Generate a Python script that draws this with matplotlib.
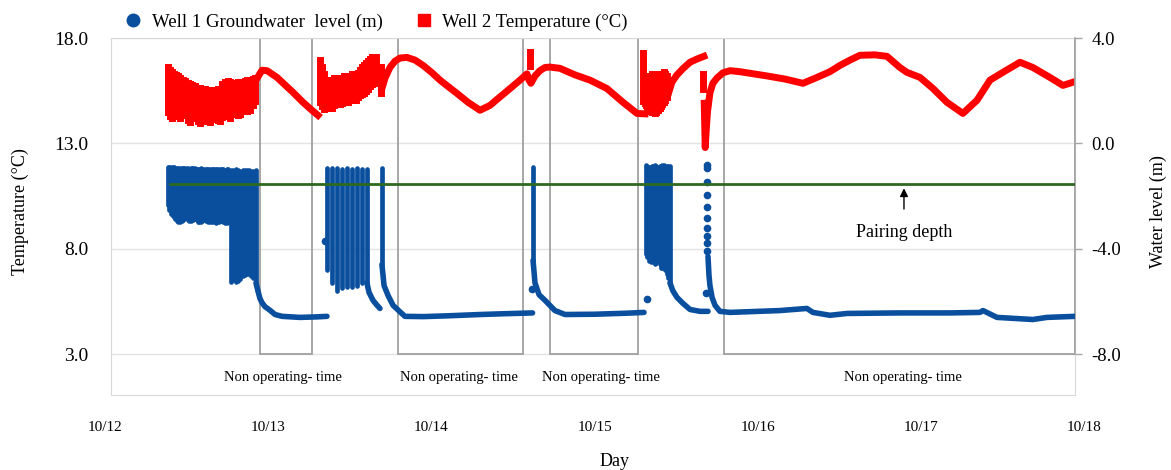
import numpy as np
import matplotlib
matplotlib.use("Agg")
import matplotlib.pyplot as plt
from matplotlib.patches import Rectangle
from matplotlib.lines import Line2D

plt.rcParams["font.family"] = ["Liberation Serif", "DejaVu Serif"]

NAN = np.nan
BLUE = "#0a4f9e"
RED = "#ff0000"
GREEN = "#2d6a1f"

# ---------------------------------------------------------------------------
# axes / labels
# ---------------------------------------------------------------------------
day_ticks = [0, 1, 2, 3, 4, 5, 6]
day_labels = ["10/12", "10/13", "10/14", "10/15", "10/16", "10/17", "10/18"]
temp_ticks = [3, 8, 13, 18]
level_ticks = [-8, -4, 0, 4]

# non operating periods (days after 10/12 00:00)
nonop_start = [0.950, 1.795, 2.727, 3.793]
nonop_end = [1.268, 2.561, 3.266, 5.944]
nonop_label_day = [1.091, 2.169, 3.039, 4.890]

pairing_depth = -1.55      # m
pairing_from = 0.392       # day the line starts

# ---------------------------------------------------------------------------
# Well 2 temperature (degC)
# ---------------------------------------------------------------------------
# smooth stretches, NaN = break between records
temp_day = [0.925, 0.962, 0.993, 1.054, 1.152, 1.213, 1.268, 1.305, NAN,
            1.697, 1.716, 1.746, 1.777, 1.808, 1.850, 1.900, 1.949, 2.004,
            2.053, 2.102, 2.157, 2.224, 2.298, 2.359, 2.420, 2.482, 2.543,
            2.586, 2.598, 2.610, 2.635, 2.665, 2.696, 2.727, 2.788, 2.880,
            2.972, 3.076, 3.174, 3.260, 3.309, NAN,
            3.450, 3.474, 3.505, 3.542, 3.585, 3.627, 3.670, NAN,
            3.672, 3.678, 3.684, 3.692, 3.707, 3.725, 3.750, 3.787, 3.830,
            3.891, 4.056, 4.167, 4.277, 4.363, 4.442, 4.504, 4.565, 4.626,
            4.718, 4.792, 4.871, 4.914, 4.994, 5.074, 5.159, 5.257, 5.343,
            5.423, 5.502, 5.607, 5.686, 5.790, 5.870, 5.931]
temp_val = [16.0, 16.47, 16.45, 16.13, 15.42, 14.95, 14.57, 14.33, NAN,
            15.6, 16.1, 16.6, 16.9, 17.05, 17.08, 16.95, 16.7, 16.35,
            16.0, 15.7, 15.37, 14.95, 14.57, 14.8, 15.2, 15.6, 16.0,
            16.3, 16.0, 15.85, 16.2, 16.45, 16.6, 16.62, 16.56, 16.25,
            16.0, 15.6, 14.95, 14.42, 14.4, NAN,
            15.3, 15.9, 16.25, 16.55, 16.85, 17.0, 17.13, NAN,
            14.9, 12.8, 13.6, 14.5, 15.4, 15.85, 16.1, 16.35, 16.45,
            16.4, 16.2, 16.05, 15.85, 16.13, 16.4, 16.7, 16.95, 17.18,
            17.2, 17.13, 16.6, 16.37, 16.13, 15.6, 14.95, 14.42, 15.04,
            16.0, 16.37, 16.85, 16.6, 16.13, 15.75, 15.9]

# pump cycling: spread of readings (high / low) at each step
temp_cyc_day = [0.386, 0.399, 0.411, 0.423, 0.435, 0.448, 0.460, 0.475,
                0.490, 0.506, 0.521, 0.536, 0.551, 0.567, 0.582, 0.597,
                0.613, 0.628, 0.643, 0.659, 0.674, 0.690, 0.705, 0.720,
                0.735, 0.751, 0.766, 0.781, 0.797, 0.812, 0.827, 0.843,
                0.858, 0.873, 0.888, 0.904, 0.919,
                1.317, 1.330, 1.342, 1.354, 1.366, 1.379, 1.391, 1.403,
                1.415, 1.428, 1.440, 1.452, 1.464, 1.477, 1.489, 1.501,
                1.513, 1.526, 1.538, 1.550, 1.562, 1.575, 1.587, 1.599,
                1.612, 1.624, 1.636, 1.648, 1.661, 1.691,
                2.604,
                3.297, 3.306, 3.315, 3.324, 3.333, 3.343, 3.352, 3.361,
                3.370, 3.379, 3.388, 3.398, 3.407, 3.416, 3.425, 3.434,
                3.444, 3.664]
temp_cyc_hi = [16.6, 16.5, 16.4, 16.3, 16.25, 16.2, 16.1, 16.0,
               15.95, 15.85, 15.8, 15.75, 15.7, 15.65, 15.65, 15.6,
               15.6, 15.55, 15.55, 15.55, 15.55, 15.6, 15.6, 15.8,
               15.9, 15.95, 15.9, 15.85, 15.85, 15.9, 15.9, 15.85,
               15.95, 16.0, 16.0, 16.05, 16.1,
               16.95, 16.6, 16.3, 16.0, 15.9, 15.95, 16.0, 16.1,
               16.1, 16.0, 16.0, 16.1, 16.2, 16.15, 16.1, 16.2,
               16.3, 16.25, 16.2, 16.35, 16.5, 16.6, 16.7, 16.8,
               16.9, 17.0, 17.1, 17.1, 17.1, 16.6,
               17.35,
               17.3, 16.2, 16.0, 16.05, 16.1, 16.2, 16.3, 16.1,
               16.0, 16.2, 16.3, 16.25, 16.2, 16.3, 16.4, 16.3,
               16.2, 16.3]
temp_cyc_lo = [14.5, 14.3, 14.2, 14.4, 14.5, 14.3, 14.2, 14.35,
               14.4, 14.1, 14.0, 14.2, 14.3, 14.05, 13.95, 14.1,
               14.2, 14.05, 14.0, 14.15, 14.3, 14.1, 14.05, 14.25,
               14.4, 14.3, 14.2, 14.4, 14.5, 14.35, 14.4, 14.6,
               14.7, 14.55, 14.6, 14.8, 15.0,
               14.95, 14.75, 14.65, 14.7, 14.75, 14.7, 14.7, 14.8,
               14.9, 14.85, 14.85, 14.9, 15.0, 14.95, 14.95, 15.05,
               15.1, 15.05, 15.05, 15.2, 15.3, 15.35, 15.4, 15.5,
               15.6, 15.7, 15.8, 15.85, 15.9, 15.4,
               16.65,
               15.0, 14.9, 14.8, 14.7, 14.6, 14.55, 14.5, 14.5,
               14.45, 14.5, 14.6, 14.7, 14.75, 14.85, 14.95, 15.05,
               15.2, 15.6]

# ---------------------------------------------------------------------------
# Well 1 groundwater level (m)
# ---------------------------------------------------------------------------
lvl_day = [0.925, 0.937, 0.950, 0.962, 0.980, 1.011, 1.042, 1.085, 1.195,
           1.300, 1.360, NAN,
           1.605, 1.618, 1.642, 1.667, 1.685, NAN,
           1.697, 1.710, 1.734, 1.765, 1.808, 1.838, 1.950, 2.100, 2.300,
           2.450, 2.620, NAN,
           2.623, 2.635, 2.660, 2.696, 2.757, 2.819, 3.000, 3.200, 3.303, NAN,
           3.462, 3.480, 3.505, 3.542, 3.585, 3.646, 3.695, NAN,
           3.695, 3.701, 3.707, 3.720, 3.738, 3.768, 3.830, 4.136, 4.301,
           4.338, 4.442, 4.547, 4.871, 5.178, 5.362, 5.380, 5.466, 5.576,
           5.686, 5.772, 5.944]
lvl_val = [-5.3, -5.6, -5.9, -6.05, -6.2, -6.34, -6.5, -6.57, -6.61,
           -6.59, -6.57, NAN,
           -5.3, -5.66, -5.96, -6.15, -6.27, NAN,
           -4.6, -5.4, -5.77, -6.15, -6.4, -6.57, -6.58, -6.55, -6.5,
           -6.47, -6.44, NAN,
           -4.45, -5.3, -5.75, -5.96, -6.35, -6.5, -6.49, -6.45, -6.42, NAN,
           -5.3, -5.6, -5.85, -6.08, -6.31, -6.38, -6.38, NAN,
           -4.3, -5.0, -5.4, -5.85, -6.15, -6.38, -6.42, -6.35, -6.27,
           -6.42, -6.53, -6.46, -6.44, -6.44, -6.42, -6.35, -6.61, -6.65,
           -6.69, -6.61, -6.57]

# pump cycling: top and bottom of each drawdown
lvl_cyc_day = [0.386, 0.395, 0.404, 0.414, 0.423, 0.432, 0.441, 0.450,
               0.460, 0.469, 0.478, 0.487, 0.496, 0.506, 0.515, 0.524,
               0.533, 0.542, 0.551, 0.561, 0.570, 0.579, 0.588, 0.597,
               0.607, 0.616, 0.625, 0.634, 0.643, 0.653, 0.662, 0.671,
               0.680, 0.689, 0.699, 0.708, 0.717, 0.726, 0.735, 0.745,
               0.754,
               0.772, 0.787, 0.803, 0.815, 0.827, 0.843, 0.858, 0.870,
               0.882, 0.895, 0.907, 0.925,
               1.360, 1.391, 1.422, 1.452, 1.483, 1.513, 1.544, 1.575, 1.605,
               1.697, 2.623,
               3.315, 3.324, 3.333, 3.343, 3.352, 3.361, 3.370, 3.379,
               3.388, 3.398, 3.407, 3.416, 3.425, 3.434, 3.444, 3.453, 3.462]
lvl_cyc_top = [-0.91, -0.89, -0.88, -0.89, -0.90, -0.92, -0.93, -0.92,
               -0.92, -0.94, -0.95, -0.94, -0.93, -0.95, -0.96, -0.95,
               -0.94, -0.95, -0.95, -0.96, -0.97, -0.96, -0.95, -0.96,
               -0.96, -0.97, -0.98, -0.97, -0.96, -0.97, -0.97, -0.98,
               -0.99, -0.98, -0.97, -0.98, -0.98, -0.99, -1.00, -0.99,
               -0.98,
               -1.03, -1.00, -0.98, -1.02, -1.05, -1.02, -1.00, -1.01,
               -1.02, -1.04, -1.05, -1.03,
               -0.93, -0.95, -0.93, -0.96, -0.94, -0.97, -0.95, -0.98, -0.96,
               -0.95, -0.91,
               -0.84, -0.87, -0.90, -0.88, -0.86, -0.85, -0.84, -0.86,
               -0.88, -0.86, -0.85, -0.84, -0.84, -0.85, -0.86, -0.85, -0.85]
lvl_cyc_bot = [-2.36, -2.55, -2.70, -2.76, -2.81, -2.88, -2.95, -2.98,
               -3.00, -2.95, -2.90, -2.87, -2.85, -2.90, -2.95, -2.94,
               -2.93, -2.90, -2.88, -2.93, -2.98, -3.00, -3.00, -2.96,
               -2.92, -2.94, -2.96, -2.98, -3.00, -2.97, -2.94, -2.98,
               -3.02, -3.00, -2.97, -2.96, -2.95, -3.00, -3.04, -3.02,
               -3.00,
               -5.25, -5.20, -5.28, -5.22, -5.15, -5.05, -5.00, -4.97,
               -4.95, -5.02, -5.10, -5.30,
               -4.8, -5.3, -5.6, -5.5, -5.45, -5.45, -5.4, -5.3, -5.3,
               -4.6, -4.45,
               -4.2, -4.3, -4.45, -4.5, -4.4, -4.5, -4.6, -4.55,
               -4.5, -4.6, -4.75, -4.72, -4.7, -4.8, -4.95, -5.1, -5.3]

# isolated readings
lvl_spot_day = [1.348, 2.616, 3.321, 3.683, 3.689, 3.689, 3.689, 3.689,
                3.689, 3.689, 3.689, 3.689, 3.689, 3.689]
lvl_spot_val = [-3.72, -5.55, -5.93, -5.70, -0.84, -0.95, -1.48, -1.98,
                -2.43, -2.85, -3.23, -3.50, -3.80, -4.07]

# ---------------------------------------------------------------------------
# figure
# ---------------------------------------------------------------------------
W, H = 1171, 470
fig = plt.figure(figsize=(W / 100, H / 100), dpi=100)
ax = fig.add_axes([111 / W, 1 - 395 / H, (1075 - 111) / W, (395 - 38) / H])
ax2 = ax.twinx()

t_lo, t_hi = 1.054, 18.0
ax.set_ylim(t_lo, t_hi)
ax2.set_ylim((t_lo - 13) / 1.25, (t_hi - 13) / 1.25)   # T = 13 + 1.25 * level
ax.set_xlim(0.0368, 5.944)
ax.set_xticks([])

# frame
for side in ("left", "top", "bottom", "right"):
    ax.spines[side].set_color("#d9d9d9")
for side in ("left", "top", "bottom"):
    ax2.spines[side].set_visible(False)
ax2.spines["right"].set_bounds(level_ticks[0], level_ticks[-1])
ax2.spines["right"].set_color("#a6a6a6")
ax2.spines["right"].set_linewidth(1.2)

ax.set_yticks(temp_ticks, labels=[f"{t:.1f}" for t in temp_ticks])
ax.tick_params(axis="y", length=0, pad=16, labelsize=14)
ax.yaxis.grid(True, color="#e3e3e3", lw=1)
ax.set_axisbelow(True)

ax2.set_yticks(level_ticks, labels=[f"{v:.1f}" for v in level_ticks])
ax2.tick_params(axis="y", length=5, width=1, color="#a6a6a6", pad=7,
                labelsize=13.5)

for d, lab in zip(day_ticks, day_labels):
    ax.text(d, -0.092, lab, transform=ax.get_xaxis_transform(),
            ha="center", va="center", fontsize=11)

# non operating boxes
for s, e in zip(nonop_start, nonop_end):
    ax.add_patch(Rectangle((s, temp_ticks[0]), e - s,
                           temp_ticks[-1] - temp_ticks[0], fill=False,
                           ec="#a0a0a0", lw=1.3, zorder=1))
for d in nonop_label_day:
    ax.text(d, 1.9, "Non operating- time", ha="center", va="center",
            fontsize=10.5)

# temperature
ax.vlines(temp_cyc_day, temp_cyc_lo, temp_cyc_hi, color=RED, lw=5,
          capstyle="projecting", zorder=3)
ax.plot(temp_day, temp_val, color=RED, lw=5, solid_capstyle="projecting",
        zorder=3)

# water level
ax2.vlines(lvl_cyc_day, lvl_cyc_bot, lvl_cyc_top, color=BLUE, lw=3.4,
           capstyle="round", zorder=3)
ax2.plot(lvl_day, lvl_val, color=BLUE, lw=4, solid_capstyle="round",
         zorder=3)
ax2.plot(lvl_spot_day, lvl_spot_val, "o", color=BLUE, ms=4.5, zorder=3)

# pairing depth
ax2.hlines(pairing_depth, pairing_from, 5.944, color=GREEN, lw=2, zorder=4)
ax2.annotate("", xy=(4.896, pairing_depth - 0.05), xytext=(4.896, -2.6),
             arrowprops=dict(arrowstyle="-|>", color="black", lw=1,
                             mutation_scale=12))
ax2.text(4.896, -3.38, "Pairing depth", ha="center", va="center",
         fontsize=13)

fig.text(20 / W, 1 - 212 / H, "Temperature (\u00b0C)", rotation=90,
         ha="center", va="center", fontsize=13)
fig.text(1158 / W, 1 - 212 / H, "Water level (m)", rotation=90,
         ha="center", va="center", fontsize=13)
fig.text(615 / W, 1 - 462 / H, "Day", ha="center", va="center", fontsize=13)

handles = [Line2D([], [], ls="none", marker="o", ms=9, color=BLUE),
           Line2D([], [], ls="none", marker="s", ms=9, color=RED)]
fig.legend(handles, ["Well 1 Groundwater  level (m)",
                     "Well 2 Temperature (\u00b0C)"],
           loc="center left", bbox_to_anchor=(116 / W, 1 - 22 / H), ncol=2,
           frameon=False, fontsize=13.5, handlelength=1.0,
           handletextpad=0.5, columnspacing=1.69, borderpad=0.4,
           borderaxespad=0)

fig.savefig("out.png", dpi=100)
